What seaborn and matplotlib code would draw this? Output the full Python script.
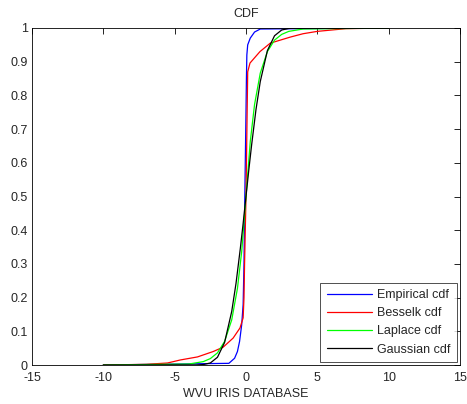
import numpy as np
import pandas as pd
import matplotlib
matplotlib.use('Agg')
import matplotlib.pyplot as plt
import seaborn as sns

# Curve values (x, cdf)
emp_x = [-10, -1.2, -0.8, -0.6, -0.45, -0.3, -0.2, -0.14, -0.1, -0.05, 0.0, 0.03, 0.06, 0.12, 0.3, 0.6, 1.0, 10]
emp_y = [0, 0.005, 0.02, 0.04, 0.07, 0.12, 0.18, 0.3, 0.45, 0.6, 0.75, 0.85, 0.92, 0.95, 0.97, 0.988, 0.997, 1]

bes_x = [-10, -7, -5.5, -4.6, -3.4, -2.3, -1.6, -0.9, -0.42, -0.2, -0.14, -0.1, 0.0, 0.08, 0.12, 0.28, 0.98, 1.7, 3.1, 4, 5, 7, 10]
bes_y = [0, 0.002, 0.006, 0.015, 0.024, 0.04, 0.053, 0.08, 0.11, 0.14, 0.2, 0.3, 0.5, 0.75, 0.87, 0.896, 0.93, 0.955, 0.973, 0.983, 0.99, 0.998, 1]

lap_x = [-10, -4, -3, -2.5, -2, -1.5, -1, -0.6, -0.3, 0, 0.3, 0.6, 1, 1.5, 2, 2.5, 3, 4, 10]
lap_y = [0, 0.003, 0.01, 0.019, 0.036, 0.07, 0.134, 0.227, 0.337, 0.5, 0.663, 0.773, 0.866, 0.93, 0.964, 0.981, 0.99, 0.997, 1]

gau_x = [-10, -3.5, -3, -2.5, -2, -1.5, -1, -0.7, -0.4, -0.2, 0, 0.2, 0.4, 0.7, 1, 1.5, 2, 2.5, 3, 3.5, 10]
gau_y = [0, 0.0002, 0.0013, 0.006, 0.023, 0.067, 0.159, 0.242, 0.345, 0.42, 0.5, 0.58, 0.655, 0.758, 0.841, 0.933, 0.977, 0.994, 0.9987, 0.9998, 1]

labels = ['Empirical cdf', 'Besselk cdf', 'Laplace cdf', 'Gaussian cdf']
colors = ['#0000ff', '#ff0000', '#00ff00', '#000000']

xticks = [-15, -10, -5, 0, 5, 10, 15]
yticks = [0, 0.1, 0.2, 0.3, 0.4, 0.5, 0.6, 0.7, 0.8, 0.9, 1]
ytick_labels = ['0', '0.1', '0.2', '0.3', '0.4', '0.5', '0.6', '0.7', '0.8', '0.9', '1']

sns.set_style('white')
plt.rcParams['font.family'] = ['Liberation Sans', 'DejaVu Sans']
plt.rcParams['xtick.direction'] = 'in'
plt.rcParams['ytick.direction'] = 'in'

fig = plt.figure(figsize=(4.67, 4.04), dpi=100)
ax = fig.add_axes([0.0685, 0.0965, 0.9165, 0.8342])

curves = [(emp_x, emp_y), (bes_x, bes_y), (lap_x, lap_y), (gau_x, gau_y)]
for (xs, ys), lab, col in zip(curves, labels, colors):
    d = pd.DataFrame({'x': xs, 'y': ys})
    sns.lineplot(data=d, x='x', y='y', ax=ax, color=col, label=lab,
                 linewidth=0.9, sort=False, estimator=None)

ax.set_xlim(-15, 15)
ax.set_ylim(0, 1)
ax.set_xticks(xticks)
ax.set_xticklabels([str(t) for t in xticks])
ax.set_yticks(yticks)
ax.set_yticklabels(ytick_labels)
ax.tick_params(axis='both', labelsize=9, length=4, width=0.6, color='black',
               top=True, right=True)
ax.tick_params(axis='x', pad=5)
ax.tick_params(axis='y', pad=3)
for s in ax.spines.values():
    s.set_color('black')
    s.set_linewidth(0.6)
ax.set_title('CDF', fontsize=9, pad=8)
ax.set_xlabel('WVU IRIS DATABASE', fontsize=9, labelpad=3)
ax.set_ylabel('')

leg = ax.legend(loc='lower right', fontsize=9, handlelength=3.6, frameon=True,
                fancybox=False, borderpad=0.5, labelspacing=0.5,
                bbox_to_anchor=(0.993, 0.009), borderaxespad=0,
                handletextpad=0.45)
leg.get_frame().set_edgecolor('black')
leg.get_frame().set_linewidth(0.6)

fig.savefig('out.png', dpi=100)
